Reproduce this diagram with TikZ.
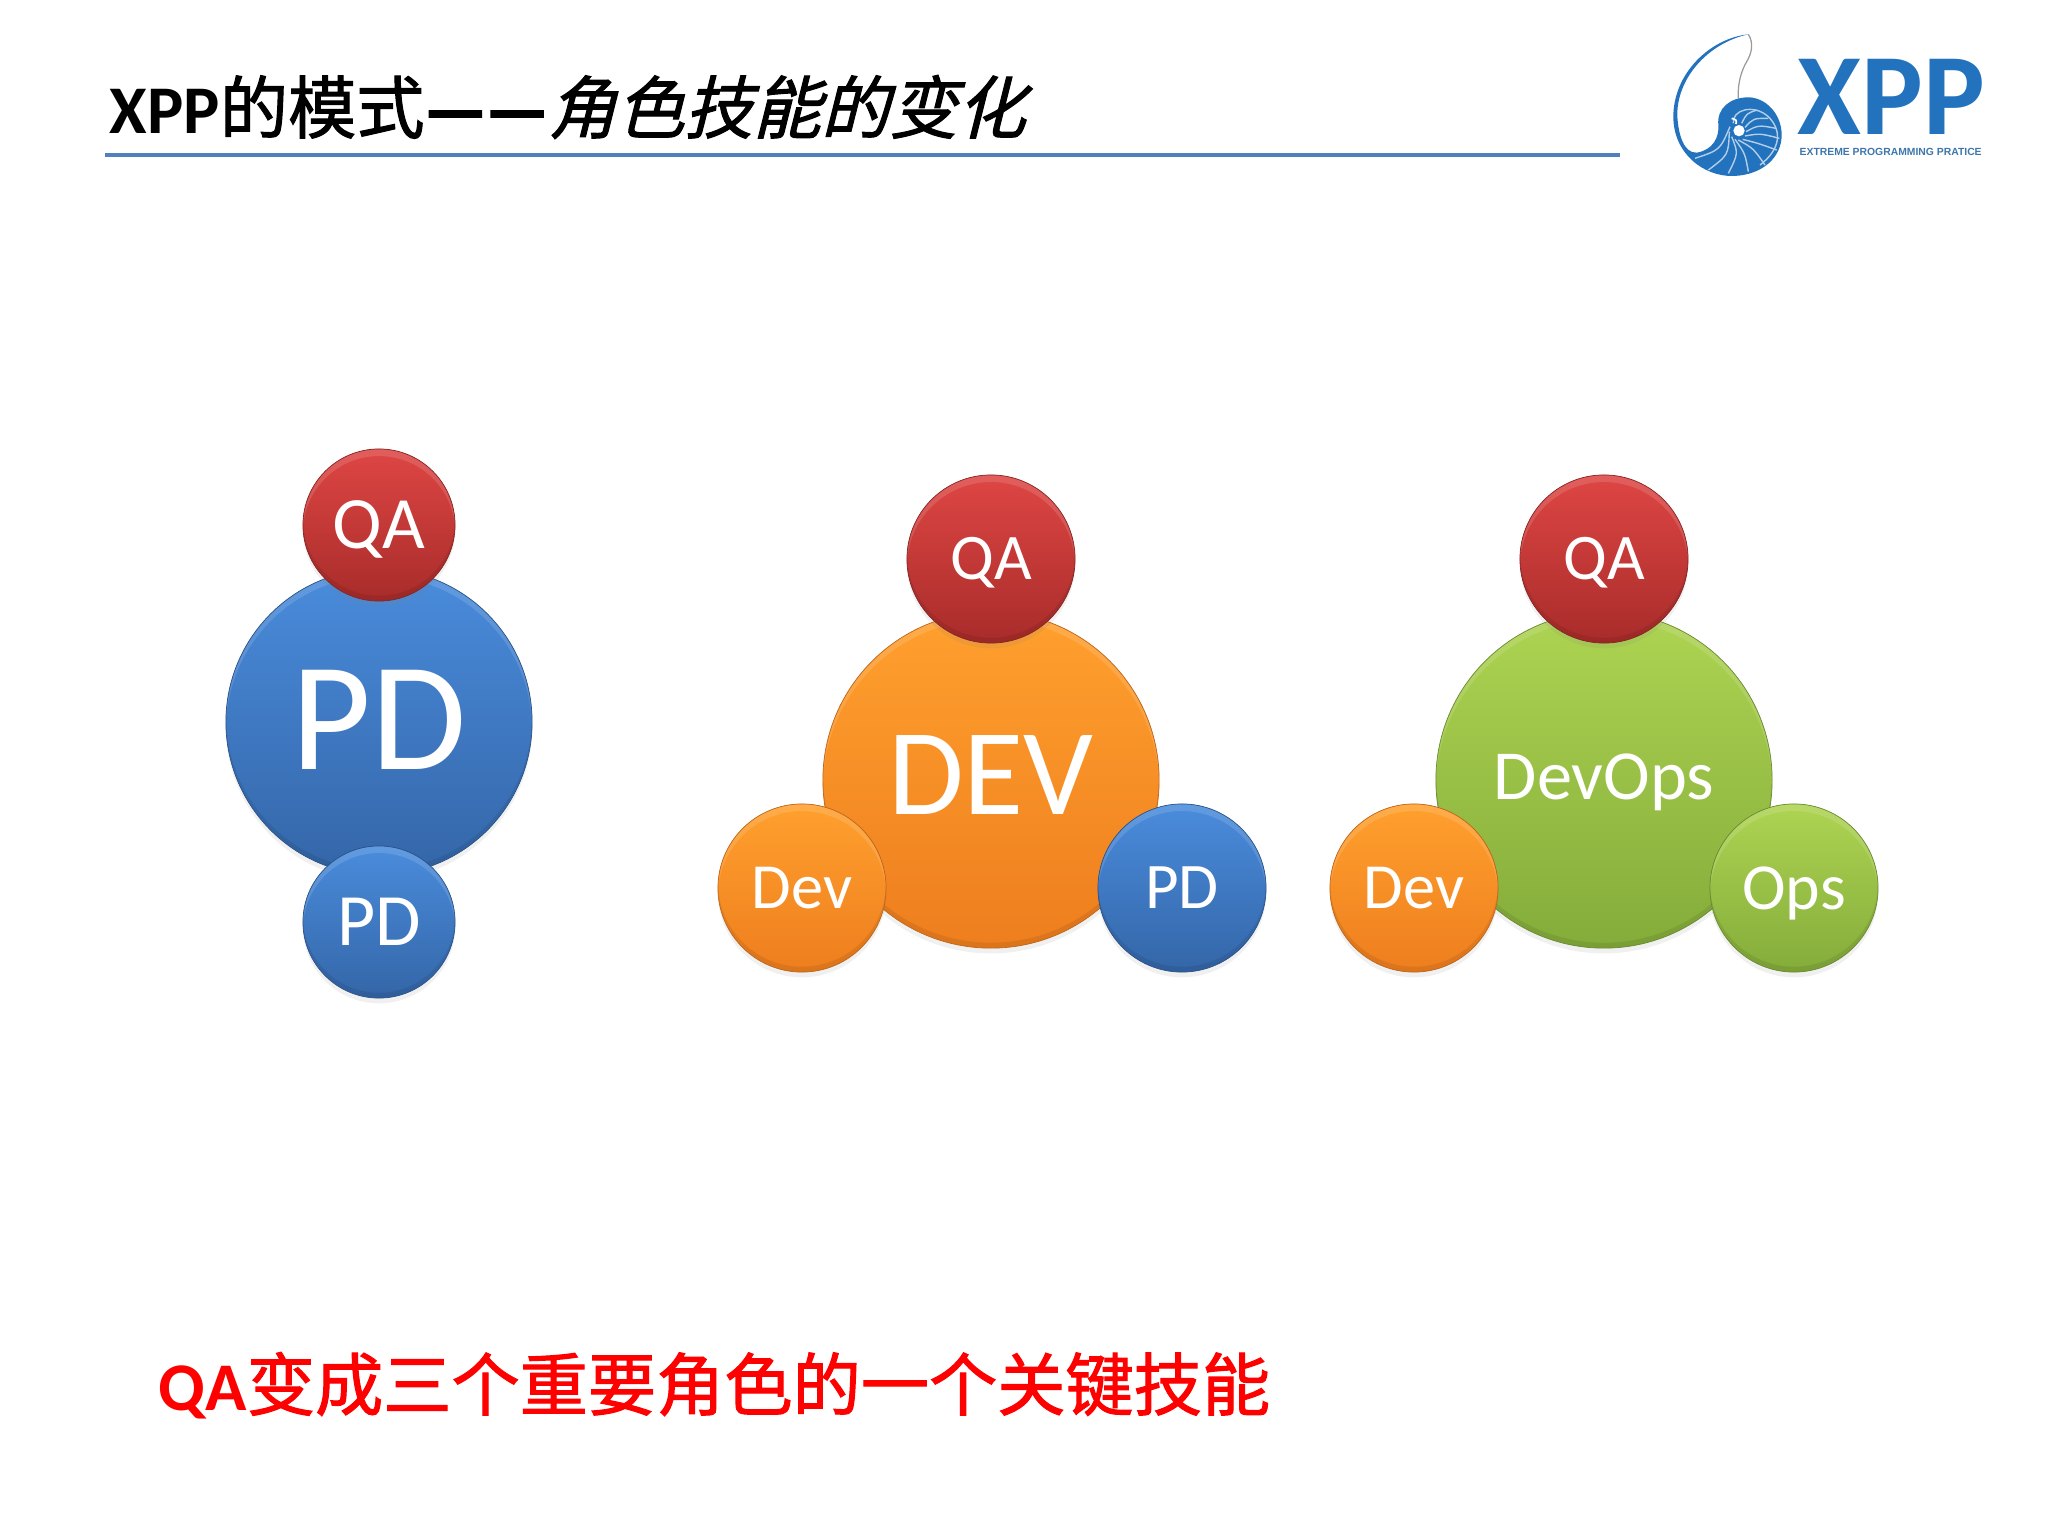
\documentclass[tikz,border=0pt]{standalone}
\usepackage{fontspec}
\usetikzlibrary{shadows}
\setmainfont{Carlito}
\newfontfamily\cjkbold[FakeBold=1.5]{Noto Sans CJK SC}
\newfontfamily\cjkslant[FakeSlant=0.25,FakeBold=1.5]{Noto Sans CJK SC}
\newfontfamily\dashfont[FakeBold=5]{Carlito}
\newfontfamily\tagfont{Liberation Sans}
\newcommand{\fsz}[1]{\fontsize{#1}{#1}\selectfont}
% text centred on its capitals, optional lift
\newcommand{\capc}[3][0pt]{\fsz{#2}\raisebox{#1}[.644em][0pt]{#3}}

\definecolor{blueT}{HTML}{4A8CDC}
\definecolor{blueB}{HTML}{3466A8}
\definecolor{redT}{HTML}{DE4644}
\definecolor{redB}{HTML}{A82C2A}
\definecolor{orangeT}{HTML}{FFA02E}
\definecolor{orangeB}{HTML}{EE7E1E}
\definecolor{greenT}{HTML}{AED452}
\definecolor{greenB}{HTML}{84AC3A}
\definecolor{logoblue}{HTML}{2272BE}
\definecolor{rulecol}{HTML}{4F81BD}

\tikzset{
  ball/.style n args={3}{circle, inner sep=0, minimum size=#3*0.02cm,
    top color=#1, bottom color=#2, draw=#2!80!black, line width=.2pt,
    text=white,
    drop shadow={shadow xshift=0pt, shadow yshift=-1.5pt, opacity=.12},
    path picture={
      \fill[white, opacity=.13, even odd rule] (path picture bounding box.center) circle (#3*0.01cm)
        ([yshift=-2pt]path picture bounding box.center) circle (#3*0.01cm);
      \fill[black, opacity=.08, even odd rule] (path picture bounding box.center) circle (#3*0.01cm)
        ([yshift=1.5pt]path picture bounding box.center) circle (#3*0.01cm);
    }},
  bigblue/.style={ball={blueT}{blueB}{153}},
  smallblue/.style={ball={blueT}{blueB}{76}},
  smallred/.style={ball={redT}{redB}{76}},
  midblue/.style={ball={blueT}{blueB}{84}},
  midred/.style={ball={redT}{redB}{84}},
  midorange/.style={ball={orangeT}{orangeB}{84}},
  midgreen/.style={ball={greenT}{greenB}{84}},
  bigorange/.style={ball={orangeT}{orangeB}{168}},
  biggreen/.style={ball={greenT}{greenB}{168}},
}

\begin{document}
\begin{tikzpicture}[x=0.01cm,y=-0.01cm]
\useasboundingbox (0,0) rectangle (2048,1536);

% title
\node[anchor=base west, inner sep=0] (title) at (109,133)
  {\fsz{19.4}\textbf{XPP}{\cjkbold 的模式}{\dashfont ——}{\cjkslant 角色技能的变化}};
\coordinate (ruleL) at (105,155);
\coordinate (ruleR) at (1620,155);
\draw[rulecol, line width=1.1pt] (ruleL)--(ruleR);

% logo
\begin{scope}[shift={(1600,0)},scale=1/3]
\draw[gray!80, line width=.35pt] (445,103) .. controls (462,130) and (455,160) .. (440,185)
  .. controls (425,210) and (412,250) .. (415,295);
\fill[logoblue] (445,103) .. controls (330,115) and (220,220) .. (220,350)
  .. controls (220,460) and (310,530) .. (400,528)
  .. controls (490,525) and (545,470) .. (545,405)
  .. controls (545,340) and (495,292) .. (445,292)
  .. controls (390,292) and (350,325) .. (355,375)
  .. controls (358,410) and (340,450) .. (290,458)
  .. controls (250,460) and (235,400) .. (232,350)
  .. controls (228,240) and (320,130) .. (445,103) -- cycle;
\begin{scope}[shift={(210,270)}]
\draw[white!65!logoblue, line width=.4pt] (190,100) .. controls (185,60) and (250,40) .. (295,80)
  .. controls (335,120) and (335,175) .. (270,225);
\foreach \ax/\ay/\bx/\by/\cx/\cy in {215/100/230/70/262/60, 225/112/250/85/295/85,
  228/125/265/105/318/115, 225/138/270/130/328/145, 218/148/265/160/320/180,
  205/150/250/175/285/225, 195/148/225/190/235/245, 185/140/205/190/175/250,
  178/125/175/195/115/240, 180/110/150/180/75/205} {
  \draw[white!65!logoblue, line width=.4pt] (\ax,\ay) .. controls (\bx,\by) .. (\cx,\cy);
}
\draw[white, line width=.5pt] (185,85) .. controls (200,90) .. (198,102);
\fill[white] (207,122) circle (17);
\end{scope}
\end{scope}
\node[anchor=base west, inner sep=0, text=logoblue] (logoname) at (1797,134)
  {\fsz{33}\textbf{XPP}};
\node[anchor=base west, inner sep=0, text=logoblue!70!gray] (logotag) at (1799,155)
  {\tagfont\fsz{2.95}\textbf{EXTREME PROGRAMMING PRATICE}};

% first group
\node[bigblue] (pdbig) at (379,722) {\capc[.8pt]{44}{PD}};
\node[smallred] (qaA) at (379,525) {\capc{21}{QA}};
\node[smallblue] (pdA) at (379,922) {\capc{21}{PD}};

% second group
\node[bigorange] (devbig) at (991,780) {\capc[1.6pt]{35}{DEV}};
\node[midred] (qaB) at (991,559) {\capc{18.5}{QA}};
\node[midorange] (devB) at (802,888) {\capc{18.3}{Dev}};
\node[midblue] (pdB) at (1182,888) {\capc{18.5}{PD}};

% third group
\node[biggreen] (opsbig) at (1604,780) {\capc[1pt]{20}{DevOps}};
\node[midred] (qaC) at (1604,559) {\capc{18.5}{QA}};
\node[midorange] (devC) at (1414,888) {\capc{18.3}{Dev}};
\node[midgreen] (opsC) at (1794,888) {\capc{18.7}{Ops}};

% bottom line
\node[anchor=base west, inner sep=0, text=red] (note) at (158,1410)
  {\fsz{19.4}\textbf{QA}{\cjkbold 变成三个重要角色的一个关键技能}};
\end{tikzpicture}
\end{document}
